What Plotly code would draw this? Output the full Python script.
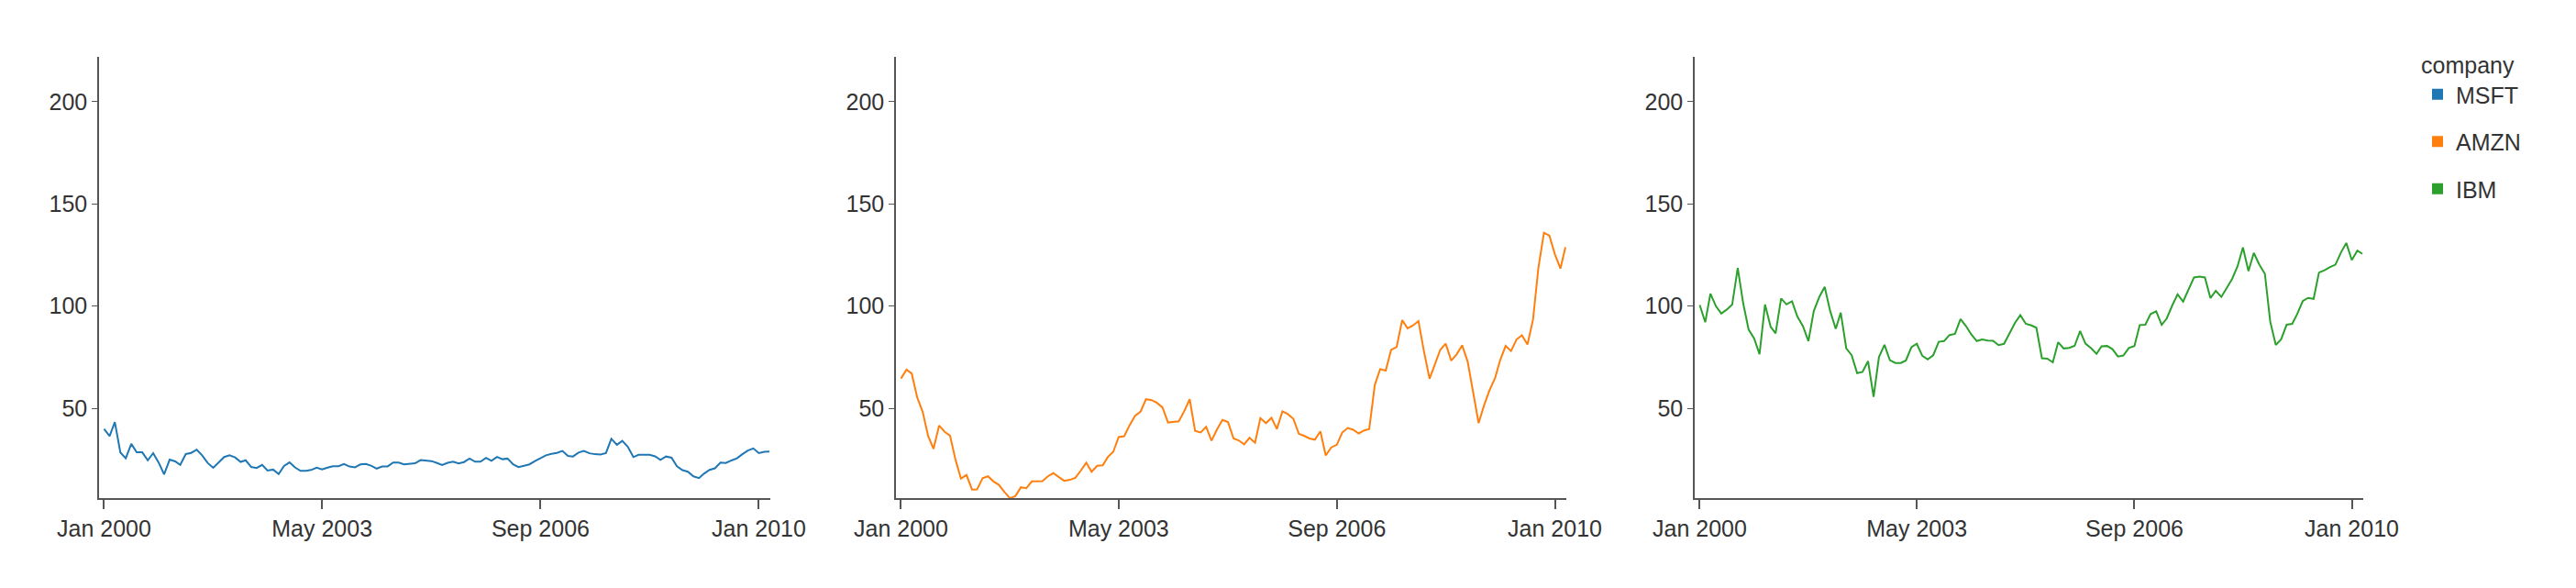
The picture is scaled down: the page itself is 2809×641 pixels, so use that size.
import plotly.graph_objects as go
import pandas as pd

dates = pd.date_range("2000-01-01", "2010-03-01", freq="MS")
msft = [39.81,36.35,43.22,28.37,25.45,32.54,28.4,28.4,24.53,28.02,23.34,17.65,
        24.84,24,22.25,27.56,28.14,29.7,26.93,23.21,20.82,23.65,26.12,26.95,
        25.92,23.73,24.53,21.26,20.71,22.25,19.52,19.97,17.79,21.75,23.46,21.03,
        19.31,19.34,19.76,20.87,20.09,20.93,21.56,21.65,22.69,21.45,21.1,22.46,
        22.69,21.77,20.46,21.45,21.53,23.44,23.38,22.47,22.76,23.02,24.6,24.52,
        24.11,23.15,22.24,23.28,23.82,22.93,23.64,25.35,23.83,23.8,25.71,24.29,
        26.14,25.04,25.36,22.5,21.19,21.8,22.51,24.13,25.68,26.96,27.66,28.13,
        29.07,26.63,26.35,28.3,29.11,27.95,27.5,27.34,28.04,35.03,32.09,34,
        31.13,26.07,27.21,27.34,27.25,26.47,24.75,26.36,25.78,21.57,19.66,18.91,
        16.63,15.81,17.99,19.84,20.59,23.42,23.18,24.43,25.49,27.48,29.27,30.34,
        28.05,28.67,28.8]
amzn = [64.56,68.87,67,55.19,48.31,36.31,30.12,41.5,38.44,36.62,24.69,15.56,
        17.31,10.19,10.23,15.78,16.69,14.15,12.49,8.94,5.97,6.98,11.32,10.82,
        14.19,14.1,14.3,16.69,18.23,16.25,14.45,14.94,15.93,19.36,23.35,18.89,
        21.85,22.01,26.03,28.69,35.89,36.32,41.64,46.32,48.43,54.43,53.97,52.62,
        50.4,43.01,43.28,43.6,48.5,54.4,38.92,38.14,40.86,34.13,39.68,44.29,
        43.22,35.18,34.27,32.36,35.51,33.09,45.15,42.7,45.3,39.86,48.46,47.15,
        44.82,37.44,36.53,35.21,34.61,38.68,26.89,30.83,32.12,38.09,40.34,39.46,
        37.67,39.14,39.79,61.33,69.14,68.41,78.54,79.91,93.15,89.15,90.56,92.64,
        77.7,64.47,71.3,78.63,81.62,73.33,76.34,80.81,72.76,57.24,42.7,51.28,
        58.82,64.79,73.44,80.52,77.99,83.66,85.76,81.19,93.36,118.81,135.91,134.52,
        125.41,118.4,128.82]
ibm = [100.52,92.11,106.11,99.95,96.31,98.33,100.74,118.62,101.19,88.5,84.12,76.47,
       100.76,89.98,86.63,103.7,100.82,102.35,94.87,90.25,82.82,97.58,104.5,109.36,
       97.54,88.82,96.75,79.3,75.94,67.19,67.76,73.06,55.6,75.04,81.04,73.52,
       72.18,72.18,73.38,79.86,81.56,75.67,73.88,75.94,82.52,82.89,85.86,86.42,
       93.61,90.19,86.19,82.87,83.65,83.14,83.07,80.9,81.52,86.69,91.75,95.53,
       91.32,90.54,89.39,74.5,74.27,72.48,82.31,79.26,79.56,80.53,87.8,81.66,
       79.43,76.64,80.33,80.48,78.92,75.32,75.78,79.51,80.45,90.71,90.91,96.11,
       97.4,90.8,93.9,100.3,105.74,102.2,107.74,114.05,114.47,114.01,103.92,107.5,
       104.5,109.35,113.25,119.49,128.69,117.13,126.03,120.31,115.81,92.36,80.98,83.71,
       90.91,91.29,96.09,102.43,104.04,103.54,116.41,117.5,119.11,120.25,126.19,130.9,
       122.56,127.16,125.55]

companies = ["MSFT", "AMZN", "IBM"]
series = [msft, amzn, ibm]
colors = ["#1f77b4", "#ff7f0e", "#2ca02c"]
tickvals = ["2000-01-01", "2003-05-01", "2006-09-01", "2010-01-01"]
ticktext = ["Jan 2000", "May 2003", "Sep 2006", "Jan 2010"]

fig = go.Figure()
L, R = 100, 2569
W = R - L
px = [(100, 832), (969, 1700), (1840, 2569)]
domains = [[(a - L) / W, (b - L) / W] for a, b in px]
font = dict(family="Liberation Sans, Arial", size=25, color="#333")
for i, (name, vals, c) in enumerate(zip(companies, series, colors)):
    ax = "" if i == 0 else str(i + 1)
    fig.add_trace(go.Scatter(x=dates, y=vals, mode="lines", line=dict(color=c, width=2),
                             showlegend=False, xaxis="x" + ax, yaxis="y" + ax))
    fig.add_trace(go.Scatter(x=[None], y=[None], mode="markers", name=name,
                             legendgroup=name,
                             marker=dict(symbol="square", size=24, color=c),
                             xaxis="x" + ax, yaxis="y" + ax))
    xa = dict(domain=domains[i], range=["1999-12-04", "2010-03-06"], tickvals=tickvals,
              ticktext=ticktext, showgrid=False, zeroline=False, showline=True,
              linecolor="#555", linewidth=2, ticks="outside", ticklen=10, tickwidth=2,
              tickcolor="#555", tickfont=font, anchor="y" + ax)
    ya = dict(range=[6, 222], tickvals=[50, 100, 150, 200], showgrid=False, zeroline=False,
              showline=True, linecolor="#555", linewidth=1.5, ticks="outside", ticklen=6,
              tickcolor="#555", tickfont=font, anchor="x" + ax)
    fig.update_layout(**{"xaxis" + ax: xa, "yaxis" + ax: ya})

fig.update_layout(width=2809, height=641, plot_bgcolor="white", paper_bgcolor="white",
                  margin=dict(l=L, r=2809 - R, t=54, b=106),
                  legend=dict(x=(2630 - L) / W, y=1.03, xanchor="left", yanchor="top",
                              title=dict(text="company", font=font), font=font,
                              itemsizing="constant", tracegroupgap=16))
fig.write_html("out.html")
